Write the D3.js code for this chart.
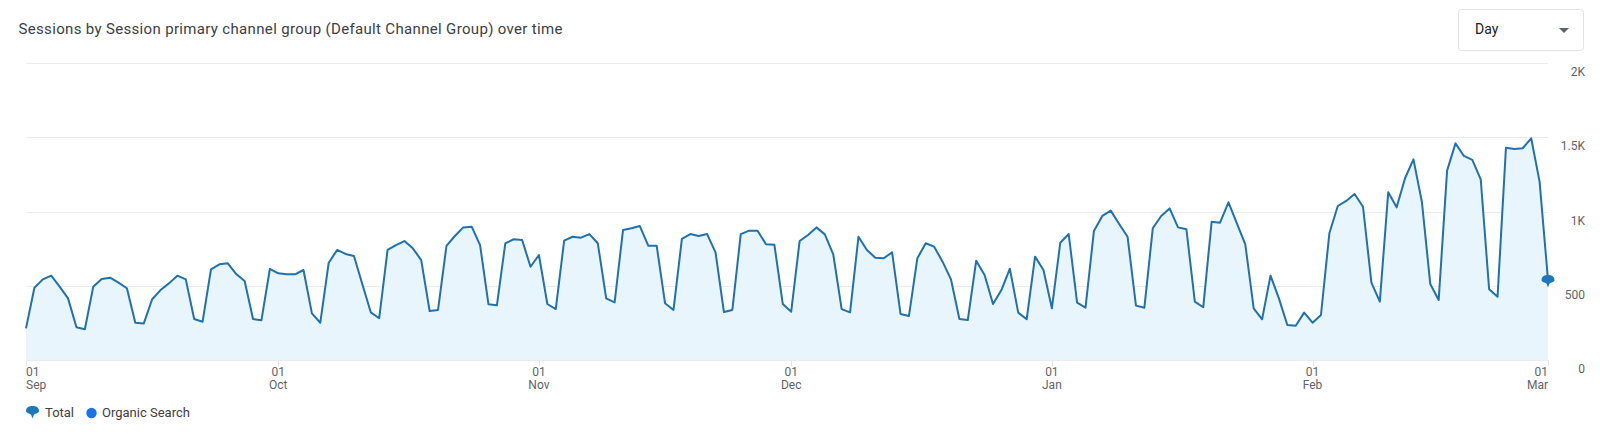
<!DOCTYPE html>
<html>
<head>
<meta charset="utf-8">
<script src="https://cdn.jsdelivr.net/npm/d3@7"></script>
<style>
  html, body { margin: 0; padding: 0; background: #fff; }
  svg { display: block; font-family: Roboto, "Noto Sans", sans-serif; }
</style>
</head>
<body>
<svg id="chart" width="1600" height="445"></svg>
<script>
// ---- Data ----
const startDate = "2022-09-01";
const endDate = "2023-03-01";
const sessions = [
  213, 487, 543, 568, 494, 415, 220, 207, 494, 545,
  554, 521, 483, 251, 245, 409, 471, 516, 568, 543,
  276, 258, 611, 644, 651, 579, 532, 276, 268, 613,
  584, 577, 577, 606, 314, 251, 655, 741, 714, 700,
  510, 321, 281, 741, 774, 801, 752, 673, 330, 337,
  768, 835, 893, 898, 774, 375, 368, 786, 813, 808,
  628, 707, 377, 343, 804, 830, 824, 848, 786, 415,
  388, 875, 887, 902, 770, 770, 382, 337, 815, 848,
  835, 848, 725, 323, 337, 848, 871, 871, 779, 776,
  377, 325, 801, 842, 893, 846, 712, 343, 321, 830,
  741, 689, 685, 725, 310, 296, 685, 786, 763, 662,
  543, 276, 269, 669, 572, 377, 471, 615, 319, 274,
  696, 606, 348, 790, 848, 386, 352, 869, 970, 1006,
  916, 830, 366, 352, 887, 970, 1021, 893, 880, 393,
  355, 931, 925, 1062, 920, 779, 348, 274, 568, 415,
  236, 231, 319, 251, 303, 853, 1037, 1071, 1118, 1032,
  521, 393, 1129, 1028, 1224, 1351, 1066, 512, 404, 1275,
  1459, 1374, 1347, 1217, 476, 426, 1430, 1421, 1426, 1493,
  1201, 539
];
const yTicks = [0, 500, 1000, 1500, 2000];
const yTickLabels = ["0", "500", "1K", "1.5K", "2K"];
const xTickDates = ["2022-09-01", "2022-10-01", "2022-11-01", "2022-12-01", "2023-01-01", "2023-02-01", "2023-03-01"];
const xTickDay = ["01", "01", "01", "01", "01", "01", "01"];
const xTickMonth = ["Sep", "Oct", "Nov", "Dec", "Jan", "Feb", "Mar"];
const legendItems = ["Total", "Organic Search"];
const title = "Sessions by Session primary channel group (Default Channel Group) over time";
const granularity = "Day";

// ---- Setup ----
const parse = d3.utcParse("%Y-%m-%d");
const dates = d3.utcDay.range(parse(startDate), d3.utcDay.offset(parse(endDate), 1));
const data = dates.map((d, i) => ({ date: d, value: sessions[i] }));

const svg = d3.select("#chart");
const plotLeft = 26, plotRight = 1548, plotTop = 63, plotBottom = 360;

const x = d3.scaleUtc().domain([parse(startDate), parse(endDate)]).range([plotLeft, plotRight]);
const y = d3.scaleLinear().domain([0, 2000]).range([plotBottom, plotTop]);

const lineColor = "#1f71b0";
const markerColor = "#1b78ba";

// Title
svg.append("text")
  .attr("x", 18.5).attr("y", 30.5)
  .attr("dominant-baseline", "middle")
  .attr("font-size", 15).attr("fill", "#3c4043")
  .attr("textLength", 544).attr("lengthAdjust", "spacing")
  .text(title);

// Dropdown
const dd = svg.append("g");
dd.append("rect")
  .attr("x", 1458.5).attr("y", 9.5).attr("width", 125).attr("height", 41)
  .attr("rx", 3).attr("fill", "#fff")
  .attr("stroke", "#e3e3e3");
dd.append("text")
  .attr("x", 1475).attr("y", 30.5)
  .attr("dominant-baseline", "middle")
  .attr("font-size", 14).attr("fill", "#202124")
  .text(granularity);
dd.append("path")
  .attr("d", "M1559,28 L1569,28 L1564,33 Z")
  .attr("fill", "#5f6368");

// Gridlines
svg.append("g").selectAll("line")
  .data(yTicks).join("line")
  .attr("x1", plotLeft).attr("x2", plotRight)
  .attr("y1", d => Math.round(y(d)) + 0.5).attr("y2", d => Math.round(y(d)) + 0.5)
  .attr("stroke", "#ececec").attr("stroke-width", 1);

// Y labels
svg.append("g").selectAll("text")
  .data(yTicks).join("text")
  .attr("x", 1585).attr("y", d => y(d) + 10)
  .attr("text-anchor", "end")
  .attr("dominant-baseline", "middle")
  .attr("font-size", 12).attr("fill", "#5f6368")
  .text((d, i) => yTickLabels[i]);

// Area
const area = d3.area()
  .x(d => x(d.date)).y0(y(0)).y1(d => y(d.value));
svg.append("path")
  .datum(data)
  .attr("d", area)
  .attr("fill", "#e8f5fd");

// Line
const line = d3.line().x(d => x(d.date)).y(d => y(d.value));
svg.append("path")
  .datum(data)
  .attr("d", line)
  .attr("fill", "none")
  .attr("stroke", lineColor)
  .attr("stroke-width", 2)
  .attr("stroke-linejoin", "round");

// X ticks & labels
const xg = svg.append("g");
xTickDates.forEach((ds, i) => {
  const px = x(parse(ds));
  const anchor = i === 0 ? "start" : (i === xTickDates.length - 1 ? "end" : "middle");
  xg.append("line")
    .attr("x1", Math.round(px) + 0.5).attr("x2", Math.round(px) + 0.5)
    .attr("y1", plotBottom).attr("y2", plotBottom + 6)
    .attr("stroke", "#e6e6e6");
  xg.append("text")
    .attr("x", px).attr("y", 373)
    .attr("text-anchor", anchor).attr("dominant-baseline", "middle")
    .attr("font-size", 12).attr("fill", "#5f6368")
    .text(xTickDay[i]);
  xg.append("text")
    .attr("x", px).attr("y", 386)
    .attr("text-anchor", anchor).attr("dominant-baseline", "middle")
    .attr("font-size", 12).attr("fill", "#5f6368")
    .text(xTickMonth[i]);
});

// Pin marker shape (centered at 0,0)
function pinPath(s) {
  return `M${-6.5*s},${-1*s}
          C${-6.5*s},${-5*s} ${-3*s},${-6*s} 0,${-6*s}
          C${3*s},${-6*s} ${6.5*s},${-5*s} ${6.5*s},${-1*s}
          C${6.5*s},${1*s} ${3*s},${1.5*s} ${1.5*s},${2.5*s}
          L0,${6.5*s}
          L${-1.5*s},${2.5*s}
          C${-3*s},${1.5*s} ${-6.5*s},${1*s} ${-6.5*s},${-1*s} Z`;
}

// End marker
const last = data[data.length - 1];
svg.append("path")
  .attr("transform", `translate(${x(last.date)},${y(last.value) + 1})`)
  .attr("d", pinPath(1))
  .attr("fill", markerColor);

// Legend
const lg = svg.append("g");
lg.append("path")
  .attr("transform", "translate(32.5,412)")
  .attr("d", pinPath(1))
  .attr("fill", markerColor);
lg.append("text")
  .attr("x", 45).attr("y", 413.5)
  .attr("dominant-baseline", "middle")
  .attr("font-size", 13).attr("fill", "#3c4043")
  .text(legendItems[0]);
lg.append("circle")
  .attr("cx", 91.5).attr("cy", 413).attr("r", 5.2)
  .attr("fill", "#1a73e8");
lg.append("text")
  .attr("x", 102).attr("y", 413.5)
  .attr("dominant-baseline", "middle")
  .attr("font-size", 13).attr("fill", "#3c4043")
  .text(legendItems[1]);
</script>
</body>
</html>
